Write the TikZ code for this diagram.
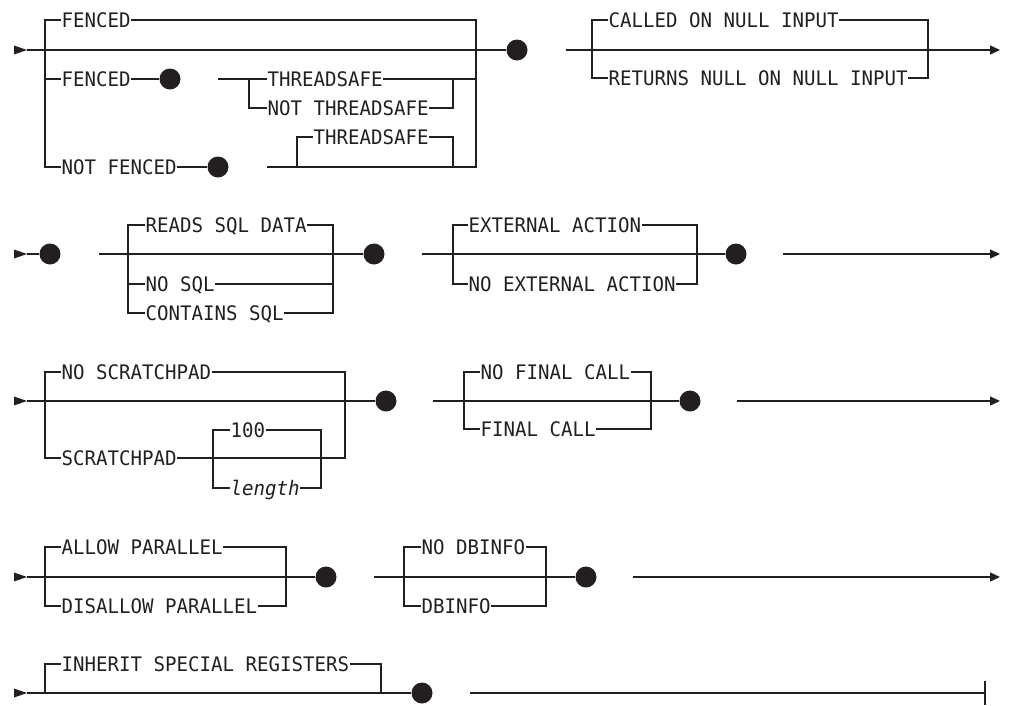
\documentclass[tikz,border=0pt]{standalone}
\usepackage{fontspec}
\newfontfamily\railfont[FakeStretch=0.955]{DejaVu Sans Mono}
\usetikzlibrary{arrows.meta}
\definecolor{ink}{RGB}{35,31,32}

\begin{document}
\begin{tikzpicture}[x=1pt, y=-1pt, line width=1.4pt, color=ink,
    kw/.style={font=\railfont\fontsize{20}{21}\selectfont, inner sep=0pt,
      anchor=west, text height=14.6pt, text depth=0pt},
    dot/.style={circle, fill=ink, minimum size=21pt, inner sep=0pt},
    tail/.style={-{Triangle[length=10pt, width=9pt]}}]
    \useasboundingbox (0,0) rectangle (1021,705);
    % start marks
    \foreach \y in {50,254,401,577,693} {
      \fill (14,\y-4.5) -- (27,\y) -- (14,\y+4.5) -- cycle;
      }
    % row 1
    \coordinate (s1) at (27,50);
    \coordinate (aL) at (45,50);
    \coordinate (aR) at (476,50);
    \node[dot] (d1a) at (517,50) {};
    \node[kw] (fen1) at (61,20) {FENCED};
    \node[kw] (fen2) at (61,79) {FENCED};
    \node[dot] (d1b) at (170,79) {};
    \coordinate (e1b) at (218,79);
    \coordinate (bL) at (249,79);
    \coordinate (bR) at (453,79);
    \node[kw] (ts1) at (267,79) {THREADSAFE};
    \node[kw] (nts) at (267,108) {NOT THREADSAFE};
    \node[kw] (nfen) at (61,167) {NOT FENCED};
    \node[dot] (d1c) at (218,167) {};
    \coordinate (e1c) at (267,167);
    \coordinate (cL) at (297,167);
    \coordinate (cR) at (453,167);
    \node[kw] (ts2) at (313,137) {THREADSAFE};
    \draw (s1) -- (d1a);
    \draw (fen1.west) -- (aL |- fen1) -- (aL |- nfen) -- (nfen.west);
    \draw (fen1.east) -- (aR |- fen1) -- (aR |- nfen) -- (e1c);
    \draw (fen2.west) -- (aL |- fen2);
    \draw (fen2.east) -- (d1b);
    \draw (e1b) -- (ts1.west);
    \draw (ts1.east) -- (aR |- ts1);
    \draw (bL) -- (bL |- nts) -- (nts.west);
    \draw (nts.east) -- (bR |- nts) -- (bR);
    \draw (nfen.east) -- (d1c);
    \draw (cL) -- (cL |- ts2) -- (ts2.west);
    \draw (ts2.east) -- (cR |- ts2) -- (cR);
    \coordinate (e1d) at (566,50);
    \coordinate (x1) at (1000,50);
    \coordinate (dL) at (592,50);
    \coordinate (dR) at (928,50);
    \node[kw] (cnull) at (608,20) {CALLED ON NULL INPUT};
    \node[kw] (rnull) at (608,78) {RETURNS NULL ON NULL INPUT};
    \draw[tail] (e1d) -- (x1);
    \draw (cnull.west) -- (dL |- cnull) -- (dL |- rnull) -- (rnull.west);
    \draw (cnull.east) -- (dR |- cnull) -- (dR |- rnull) -- (rnull.east);
    % row 2
    \coordinate (s2) at (27,254);
    \node[dot] (d2a) at (50,254) {};
    \coordinate (e2a) at (99,254);
    \coordinate (eL) at (128,254);
    \coordinate (eR) at (333,254);
    \node[dot] (d2b) at (374,254) {};
    \node[kw] (rsd) at (145,225) {READS SQL DATA};
    \node[kw] (nsql) at (145,284) {NO SQL};
    \node[kw] (csql) at (145,313) {CONTAINS SQL};
    \draw (s2) -- (d2a);
    \draw (e2a) -- (d2b);
    \draw (rsd.west) -- (eL |- rsd) -- (eL |- csql) -- (csql.west);
    \draw (rsd.east) -- (eR |- rsd) -- (eR |- csql) -- (csql.east);
    \draw (nsql.west) -- (eL |- nsql);
    \draw (nsql.east) -- (eR |- nsql);
    \coordinate (e2b) at (422,254);
    \coordinate (fL) at (453,254);
    \coordinate (fR) at (697,254);
    \node[dot] (d2c) at (736,254) {};
    \node[kw] (ext) at (468,225) {EXTERNAL ACTION};
    \node[kw] (next) at (468,284) {NO EXTERNAL ACTION};
    \draw (e2b) -- (d2c);
    \draw (ext.west) -- (fL |- ext) -- (fL |- next) -- (next.west);
    \draw (ext.east) -- (fR |- ext) -- (fR |- next) -- (next.east);
    \coordinate (e2c) at (783,254);
    \coordinate (x2) at (1000,254);
    \draw[tail] (e2c) -- (x2);
    % row 3
    \coordinate (s3) at (27,401);
    \coordinate (gL) at (45,401);
    \coordinate (gR) at (345,401);
    \node[dot] (d3a) at (386,401) {};
    \node[kw] (nsp) at (61,372) {NO SCRATCHPAD};
    \node[kw] (sp) at (61,458) {SCRATCHPAD};
    \coordinate (hL) at (213,458);
    \coordinate (hR) at (321,458);
    \node[kw] (h100) at (230,430) {100};
    \node[kw] (len) at (230,488) {\itshape length};
    \draw (s3) -- (d3a);
    \draw (nsp.west) -- (gL |- nsp) -- (gL |- sp) -- (sp.west);
    \draw (nsp.east) -- (gR |- nsp) -- (gR |- sp) -- (sp.east);
    \draw (h100.west) -- (hL |- h100) -- (hL |- len) -- (len.west);
    \draw (h100.east) -- (hR |- h100) -- (hR |- len) -- (len.east);
    \coordinate (e3a) at (433,401);
    \coordinate (iL) at (464,401);
    \coordinate (iR) at (651,401);
    \node[dot] (d3b) at (690,401) {};
    \node[kw] (nfc) at (480,372) {NO FINAL CALL};
    \node[kw] (fc) at (480,429) {FINAL CALL};
    \draw (e3a) -- (d3b);
    \draw (nfc.west) -- (iL |- nfc) -- (iL |- fc) -- (fc.west);
    \draw (nfc.east) -- (iR |- nfc) -- (iR |- fc) -- (fc.east);
    \coordinate (e3b) at (737,401);
    \coordinate (x3) at (1000,401);
    \draw[tail] (e3b) -- (x3);
    % row 4
    \coordinate (s4) at (27,577);
    \coordinate (jL) at (45,577);
    \coordinate (jR) at (286,577);
    \node[dot] (d4a) at (326,577) {};
    \node[kw] (ap) at (61,547) {ALLOW PARALLEL};
    \node[kw] (dap) at (61,606) {DISALLOW PARALLEL};
    \draw (s4) -- (d4a);
    \draw (ap.west) -- (jL |- ap) -- (jL |- dap) -- (dap.west);
    \draw (ap.east) -- (jR |- ap) -- (jR |- dap) -- (dap.east);
    \coordinate (e4a) at (374,577);
    \coordinate (kL) at (404,577);
    \coordinate (kR) at (546,577);
    \node[dot] (d4b) at (586,577) {};
    \node[kw] (ndb) at (421,547) {NO DBINFO};
    \node[kw] (db) at (421,606) {DBINFO};
    \draw (e4a) -- (d4b);
    \draw (ndb.west) -- (kL |- ndb) -- (kL |- db) -- (db.west);
    \draw (ndb.east) -- (kR |- ndb) -- (kR |- db) -- (db.east);
    \coordinate (e4b) at (633,577);
    \coordinate (x4) at (1000,577);
    \draw[tail] (e4b) -- (x4);
    % row 5
    \coordinate (s5) at (27,693);
    \coordinate (lL) at (45,693);
    \coordinate (lR) at (381,693);
    \node[dot] (d5) at (422,693) {};
    \node[kw] (isr) at (61,664) {INHERIT SPECIAL REGISTERS};
    \draw (s5) -- (d5);
    \draw (lL) -- (lL |- isr) -- (isr.west);
    \draw (isr.east) -- (lR |- isr) -- (lR);
    \coordinate (e5) at (470,693);
    \coordinate (x5) at (985,693);
    \draw (e5) -- (x5);
    \draw ([yshift=12pt]x5) -- ([yshift=-12pt]x5);
  \end{tikzpicture}
\end{document}
